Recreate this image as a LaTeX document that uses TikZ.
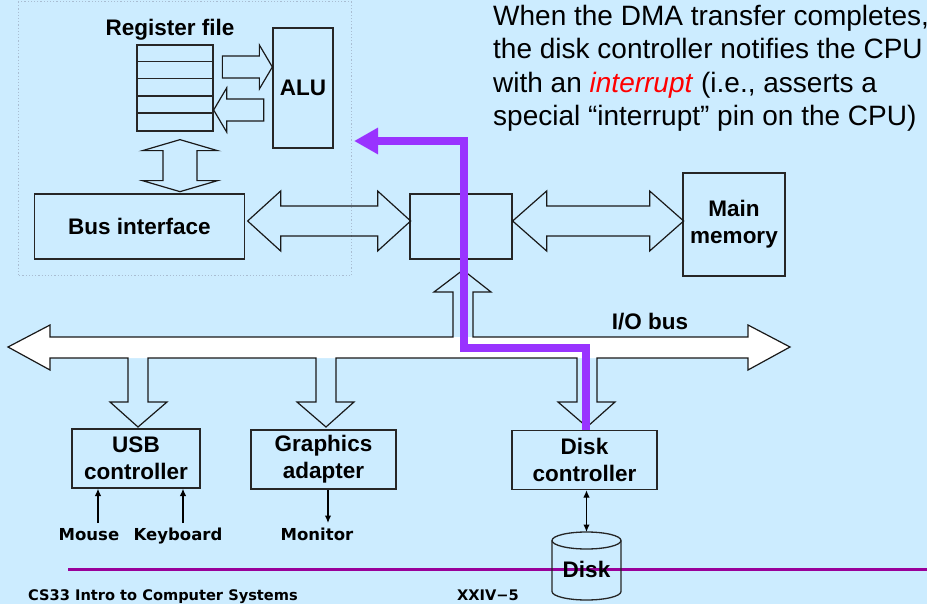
\documentclass[tikz,border=0pt]{standalone}
\usepackage{fontspec}
\setmainfont{Liberation Sans}
\newfontfamily\tagface{DejaVu Sans}
\usetikzlibrary{arrows.meta,calc}

\definecolor{slidebg}{HTML}{CCECFF}
\definecolor{irqviolet}{HTML}{9933FF}
\definecolor{rulepurple}{HTML}{990099}
\definecolor{chipline}{HTML}{A9BDD2}

\newcommand{\lblfont}{\fontsize{22.5}{27}\selectfont\bfseries}
\newcommand{\tagfont}{\fontsize{16.5}{20}\selectfont\tagface\bfseries}
\newcommand{\footfont}{\fontsize{14.6}{18}\selectfont\tagface\bfseries}

\tikzset{
  box/.style={draw=black!85, line width=1.3pt, align=center, inner sep=0pt, font=\lblfont},
  fat/.style={draw=black!90, line width=1.2pt, line join=miter},
  thin/.style={line width=1.2pt, -{Latex[length=7.5pt,width=6.5pt]}},
  irq/.style={irqviolet, line width=8pt, -{Triangle[length=24pt,width=25pt]}},
  tag/.style={anchor=base, inner sep=0pt, font=\tagfont}
}

\begin{document}
\begin{tikzpicture}[x=1pt,y=-1pt]
  \useasboundingbox[fill=slidebg] (0,0) rectangle (927,604);

  % chip outline
  \draw[chipline, line width=1pt, dash pattern=on 1.2pt off 2pt] (18,2) rectangle (351,276);

  % register file and ALU
  \node[box, minimum width=76pt, minimum height=86pt] (regs) at (175,88) {};
  \foreach \i in {1,...,4}
    \draw[line width=1.3pt, black!85] ($(regs.north west)+(0,17.2*\i)$) -- ++(76,0);
  \node[anchor=base, inner sep=0pt, font=\lblfont] (regtitle) at (170,36) {Register file};
  \node[box, minimum width=60pt, minimum height=120pt] (alu) at (303,88) {ALU};

  \draw[fat] ([yshift=21pt]alu.west) -- ++(-13,-22) -- ++(0,11) -- ++(-37,0) -- ++(0,22)
    -- ++(37,0) -- ++(0,11) -- cycle;
  \draw[fat] ([yshift=-22pt]regs.east) -- ++(13,-22) -- ++(0,11) -- ++(37,0) -- ++(0,22)
    -- ++(-37,0) -- ++(0,11) -- cycle;

  % bus interface, bridge, memory
  \node[box, minimum width=210pt, minimum height=65pt] (busif) at (139.5,226.5) {Bus interface};
  \node[box, minimum width=102pt, minimum height=65pt] (bridge) at (461,226.5) {};
  \node[box, minimum width=102pt, minimum height=103pt] (mem) at (734,224.5) {Main\\memory};

  \draw[fat] ([shift={(5,8)}]regs.south) -- ++(37.5,11) -- ++(-20.5,0) -- ++(0,30) -- ++(20.5,0)
    -- ++(-37.5,11) -- ++(-37.5,-11) -- ++(20.5,0) -- ++(0,-30) -- ++(-20.5,0) -- cycle;
  \draw[fat] ([shift={(2.5,-5.5)}]busif.east) -- ++(33,-30) -- ++(0,15) -- ++(97,0) -- ++(0,-15)
    -- ++(33,30) -- ++(-33,30) -- ++(0,-15) -- ++(-97,0) -- ++(0,15) -- cycle;
  \draw[fat] ([yshift=5.5pt]bridge.east) -- ++(34,-30) -- ++(0,15) -- ++(103,0) -- ++(0,-15)
    -- ++(34,30) -- ++(-34,30) -- ++(0,-15) -- ++(-103,0) -- ++(0,15) -- cycle;

  % I/O bus with its branches
  \fill[white] (8,347) -- (50,325) -- (50,337) -- (748,337) -- (748,325) -- (790,347)
    -- (748,370) -- (748,358) -- (50,358) -- (50,370) -- cycle;
  \draw[fat] (8,347) -- (50,325) -- (50,337) -- (453,337) -- (453,292) -- (434,292) -- (463,270)
    -- (491,292) -- (473,292) -- (473,337) -- (748,337) -- (748,325) -- (790,347) -- (748,370)
    -- (748,358) -- (597,358) -- (597,402) -- (615,402) -- (587,427) -- (558,402) -- (577,402)
    -- (577,358) -- (336,358) -- (336,402) -- (354,402) -- (326,427) -- (297,402) -- (316,402)
    -- (316,358) -- (148,358) -- (148,402) -- (167,402) -- (138,427) -- (110,402) -- (128,402)
    -- (128,358) -- (50,358) -- (50,370) -- cycle;
  \node[anchor=base, inner sep=0pt, font=\lblfont] (iobus) at (650,330) {I/O bus};

  % controllers
  \node[box, minimum width=128pt, minimum height=59pt] (usb) at (136,458.5) {USB\\controller};
  \node[box, minimum width=145pt, minimum height=59pt] (gfx) at (323.5,459.5) {Graphics\\adapter};
  \node[box, minimum width=145pt, minimum height=59pt] (diskc) at (584.5,460) {Disk\\controller};

  % devices
  \node[tag] (mouse) at (89,540) {Mouse};
  \node[tag] (keyboard) at (178,540) {Keyboard};
  \node[tag] (monitor) at (317,540) {Monitor};
  \coordinate (mousein) at (98,523);
  \coordinate (keyin) at (183,523);
  \coordinate (monin) at (328,523);
  \draw[thin] (mousein) -- (mousein |- usb.south);
  \draw[thin] (keyin) -- (keyin |- usb.south);
  \draw[thin] (gfx.south -| monin) -- (monin);

  % footer rule
  \draw[rulepurple, line width=3pt] (68,569) -- (927,569);

  % disk
  \draw[line width=1.3pt, black!85] (552,540.5) -- (552,591.5)
    arc[start angle=180, end angle=0, x radius=34.5, y radius=8.5] -- (621,540.5);
  \draw[line width=1.3pt, black!85] (586.5,540.5) ellipse[x radius=34.5, y radius=8.5];
  \coordinate (disktop) at (586.5,532);
  \node[anchor=base, inner sep=0pt, font=\lblfont] (disk) at (586.5,577) {Disk};
  \draw[thin, {Latex[length=7.5pt,width=6.5pt]}-{Latex[length=7.5pt,width=6.5pt]}] (diskc.south -| disktop) -- (disktop);

  % interrupt path
  \coordinate (busjog) at (464,348);
  \coordinate (cpupin) at (354,141);
  \draw[irq] ([xshift=1.5pt]diskc.north) |- (busjog) |- (cpupin);

  \node[anchor=north west, align=left, inner sep=0pt, font=\fontsize{28}{33.5}\selectfont] (note) at (493,5)
    {When the DMA transfer completes,\\the disk controller notifies the CPU\\with an \textcolor{red}{\textit{interrupt}} (i.e., asserts a\\special “interrupt” pin on the CPU)};

  % footer
  \node[anchor=base west, inner sep=0pt, font=\footfont] (course) at (28,600) {CS33 Intro to Computer Systems};
  \node[anchor=base west, inner sep=0pt, font=\footfont] (slideno) at (457,600) {XXIV−5};
\end{tikzpicture}
\end{document}
